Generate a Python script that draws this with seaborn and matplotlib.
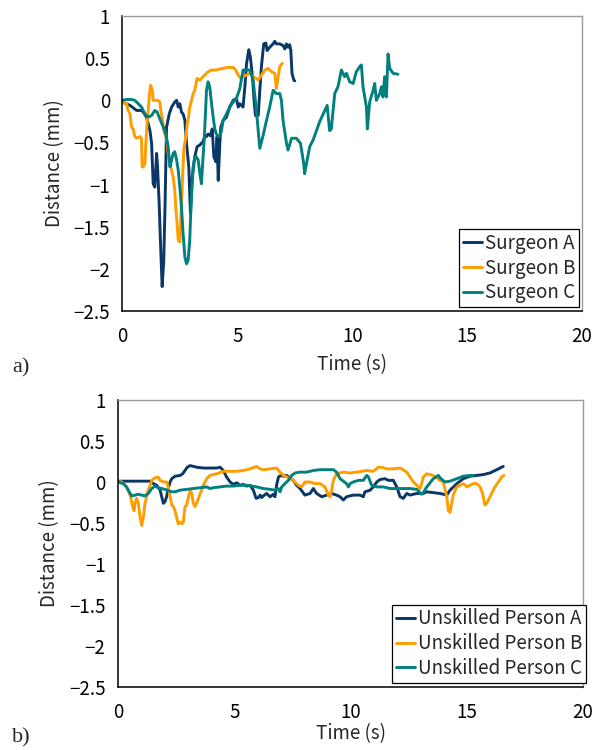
"""
Displacement traces: surgeons (a) vs unskilled persons (b).
"""

import matplotlib
matplotlib.use("Agg")
import matplotlib.pyplot as plt
import seaborn as sns
import pandas as pd

# ---- data (time s, distance mm) ----
SURG_A_T = [0.0, 0.33, 0.62, 0.83, 0.91, 1.05, 1.20, 1.27, 1.34, 1.41, 1.49, 1.53, 1.60, 1.67,
            1.73, 1.80, 1.86, 1.92, 2.04, 2.14, 2.28, 2.36, 2.43, 2.50, 2.57, 2.64, 2.72, 2.79,
            2.89, 2.96, 3.04, 3.15, 3.25, 3.37, 3.51, 3.59, 3.66, 3.73, 3.83, 3.91, 3.98, 4.07,
            4.12, 4.17, 4.24, 4.28, 4.38, 4.53, 4.67, 4.82, 4.96, 5.04, 5.11, 5.25, 5.33, 5.40,
            5.50, 5.57, 5.66, 5.73, 5.79, 5.91, 5.98, 6.05, 6.15, 6.24, 6.30, 6.41, 6.56, 6.63,
            6.70, 6.85, 6.99, 7.07, 7.14, 7.21, 7.28, 7.33, 7.38, 7.46, 7.50]
SURG_A_D = [-0.02, -0.06, -0.12, -0.12, -0.14, -0.20, -0.36, -0.51, -0.99, -1.03, -0.63, -0.79,
            -1.23, -1.78, -2.21, -1.90, -1.19, -0.32, -0.16, -0.08, -0.02, 0.00, -0.08, -0.04,
            -0.14, -0.16, -0.24, -0.51, -0.79, -1.34, -0.91, -0.67, -0.55, -0.53, -0.49, -0.42,
            -0.43, -0.40, -0.42, -0.34, -0.67, -0.73, -0.43, -0.95, -0.51, -0.32, -0.24, -0.20,
            -0.08, 0.00, 0.02, -0.08, -0.04, -0.08, 0.16, 0.43, 0.60, 0.51, 0.28, 0.00, -0.18,
            -0.18, 0.12, 0.40, 0.67, 0.68, 0.59, 0.63, 0.67, 0.70, 0.67, 0.67, 0.65, 0.61, 0.67,
            0.63, 0.66, 0.59, 0.32, 0.24, 0.23]

SURG_B_T = [0.0, 0.18, 0.25, 0.33, 0.40, 0.47, 0.54, 0.62, 0.76, 0.83, 0.86, 0.91, 0.98, 1.02,
            1.08, 1.12, 1.17, 1.22, 1.30, 1.34, 1.44, 1.53, 1.63, 1.67, 1.75, 1.82, 1.89, 1.95,
            1.99, 2.07, 2.14, 2.21, 2.28, 2.33, 2.38, 2.43, 2.50, 2.54, 2.62, 2.67, 2.76, 2.82,
            2.88, 2.93, 3.01, 3.08, 3.15, 3.25, 3.37, 3.51, 3.73, 3.88, 4.09, 4.38, 4.60, 4.82,
            4.93, 5.04, 5.14, 5.40, 5.54, 5.69, 5.83, 5.91, 6.05, 6.20, 6.34, 6.49, 6.63, 6.70,
            6.78, 6.85, 6.96]
SURG_B_D = [-0.02, -0.04, -0.12, -0.16, -0.32, -0.34, -0.43, -0.45, -0.43, -0.45, -0.79, -0.79,
            -0.75, -0.51, -0.24, -0.12, 0.04, 0.18, 0.12, 0.00, 0.00, 0.00, -0.02, -0.12, -0.24,
            -0.38, -0.43, -0.51, -0.63, -0.75, -0.83, -0.91, -1.07, -1.30, -1.46, -1.66, -1.68,
            -1.42, -0.91, -0.59, -0.43, -0.28, -0.20, -0.08, 0.00, 0.08, 0.12, 0.26, 0.24, 0.28,
            0.34, 0.36, 0.36, 0.38, 0.39, 0.39, 0.36, 0.30, 0.26, 0.30, 0.32, 0.28, 0.26, 0.24,
            0.30, 0.36, 0.38, 0.34, 0.32, 0.14, 0.28, 0.40, 0.44]

SURG_C_T = [0.0, 0.18, 0.40, 0.54, 0.69, 0.83, 0.98, 1.12, 1.27, 1.41, 1.51, 1.63, 1.78, 1.89,
            1.99, 2.07, 2.14, 2.21, 2.28, 2.36, 2.43, 2.50, 2.57, 2.64, 2.72, 2.79, 2.86, 2.93,
            2.98, 3.02, 3.08, 3.15, 3.22, 3.30, 3.37, 3.44, 3.51, 3.56, 3.62, 3.66, 3.73, 3.80,
            3.88, 3.95, 4.02, 4.09, 4.17, 4.24, 4.31, 4.38, 4.53, 4.67, 4.82, 4.96, 5.11, 5.25,
            5.40, 5.54, 5.69, 5.83, 5.98, 6.12, 6.27, 6.41, 6.56, 6.70, 6.85, 6.92, 6.99, 7.14,
            7.21, 7.36, 7.57, 7.75, 7.89, 7.93, 8.01, 8.15, 8.30, 8.59, 8.91, 9.02, 9.09, 9.24,
            9.38, 9.53, 9.67, 9.75, 9.89, 10.04, 10.18, 10.33, 10.40, 10.47, 10.62, 10.66, 10.76,
            10.91, 10.98, 11.05, 11.20, 11.27, 11.34, 11.41, 11.49, 11.56, 11.63, 11.78, 11.99]
SURG_C_D = [0.00, 0.01, 0.01, 0.00, -0.04, -0.08, -0.16, -0.20, -0.18, -0.12, -0.14, -0.22,
            -0.32, -0.40, -0.55, -0.79, -0.71, -0.63, -0.61, -0.71, -0.83, -1.03, -1.26, -1.58,
            -1.86, -1.94, -1.90, -1.66, -1.30, -1.07, -0.79, -0.67, -0.67, -0.71, -0.87, -0.99,
            -0.67, -0.47, -0.12, 0.12, 0.22, 0.16, -0.04, -0.20, -0.34, -0.40, -0.43, -0.42,
            -0.36, -0.24, -0.16, -0.08, -0.02, 0.02, 0.14, 0.36, 0.36, 0.36, 0.24, -0.12, -0.57,
            -0.42, -0.24, -0.08, 0.12, 0.08, 0.08, 0.00, -0.24, -0.51, -0.59, -0.45, -0.45,
            -0.51, -0.75, -0.87, -0.75, -0.55, -0.47, -0.25, -0.06, -0.36, -0.34, 0.08, 0.16,
            0.36, 0.28, 0.32, 0.22, 0.20, 0.34, 0.40, 0.42, 0.16, -0.08, -0.34, -0.02, 0.12,
            0.20, 0.00, 0.08, 0.16, 0.04, 0.28, 0.04, 0.55, 0.38, 0.32, 0.31]

UNSK_A_T = [0.0, 0.52, 1.38, 1.52, 1.66, 1.81, 1.88, 1.95, 2.02, 2.09, 2.16, 2.24, 2.31, 2.45,
            2.67, 2.78, 2.88, 2.98, 3.10, 3.38, 3.67, 3.96, 4.24, 4.39, 4.53, 4.67, 4.82, 4.96,
            5.10, 5.25, 5.39, 5.53, 5.68, 5.82, 5.94, 6.04, 6.11, 6.18, 6.25, 6.39, 6.54, 6.68,
            6.75, 6.82, 6.90, 7.00, 7.11, 7.25, 7.40, 7.54, 7.68, 7.83, 8.04, 8.26, 8.40, 8.54,
            8.76, 8.97, 9.19, 9.40, 9.55, 9.69, 9.83, 10.12, 10.41, 10.55, 10.62, 10.84, 10.98,
            11.13, 11.27, 11.48, 11.63, 11.84, 11.99, 12.13, 12.27, 12.42, 12.56, 12.85, 13.13,
            13.28, 13.56, 13.85, 14.14, 14.28, 14.57, 14.85, 15.14, 15.43, 15.71, 16.00, 16.29,
            16.57]
UNSK_A_D = [0.01, 0.01, 0.01, -0.02, -0.04, -0.10, -0.18, -0.26, -0.24, -0.18, -0.08, 0.00,
            0.04, 0.07, 0.08, 0.10, 0.14, 0.18, 0.20, 0.18, 0.17, 0.17, 0.17, 0.18, 0.14, 0.06,
            0.00, -0.03, -0.01, -0.04, -0.03, -0.05, -0.04, -0.10, -0.20, -0.19, -0.16, -0.19,
            -0.17, -0.14, -0.18, -0.15, -0.18, -0.04, 0.06, 0.08, 0.07, 0.08, 0.05, 0.02, -0.04,
            -0.08, -0.16, -0.14, -0.08, -0.14, -0.18, -0.16, -0.14, -0.16, -0.18, -0.22, -0.18,
            -0.16, -0.16, -0.18, -0.12, -0.10, -0.06, 0.00, 0.03, 0.04, 0.02, 0.02, -0.06, -0.18,
            -0.20, -0.14, -0.16, -0.14, -0.14, -0.12, -0.13, -0.14, -0.16, -0.10, -0.02, 0.04,
            0.07, 0.08, 0.09, 0.11, 0.15, 0.19]

UNSK_B_T = [0.0, 0.16, 0.30, 0.44, 0.54, 0.63, 0.69, 0.73, 0.80, 0.87, 0.95, 1.02, 1.09, 1.16,
            1.23, 1.30, 1.38, 1.45, 1.59, 1.73, 1.81, 1.95, 2.09, 2.16, 2.24, 2.31, 2.38, 2.45,
            2.52, 2.59, 2.67, 2.74, 2.81, 2.88, 2.95, 3.03, 3.10, 3.17, 3.24, 3.31, 3.38, 3.46,
            3.53, 3.60, 3.67, 3.81, 3.96, 4.24, 4.53, 5.10, 5.39, 5.68, 5.96, 6.11, 6.25, 6.54,
            6.82, 6.97, 7.11, 7.33, 7.47, 7.61, 7.76, 7.90, 8.04, 8.26, 8.47, 8.69, 8.90, 9.05,
            9.12, 9.19, 9.26, 9.40, 9.69, 9.98, 10.27, 10.70, 10.98, 11.20, 11.34, 11.56, 11.84,
            12.13, 12.42, 12.56, 12.70, 12.85, 12.99, 13.06, 13.13, 13.28, 13.56, 13.85, 13.99,
            14.14, 14.21, 14.28, 14.35, 14.42, 14.57, 14.71, 14.85, 15.00, 15.14, 15.28, 15.43,
            15.57, 15.68, 15.78, 15.86, 15.93, 16.07, 16.21, 16.36, 16.50, 16.60]
UNSK_B_D = [0.01, 0.00, -0.04, -0.10, -0.18, -0.30, -0.35, -0.26, -0.20, -0.26, -0.43, -0.53,
            -0.43, -0.26, -0.18, -0.10, -0.04, 0.02, 0.05, 0.06, 0.02, 0.00, 0.00, -0.06, -0.18,
            -0.28, -0.30, -0.35, -0.43, -0.51, -0.49, -0.51, -0.49, -0.30, -0.28, -0.18, -0.10,
            -0.14, -0.26, -0.30, -0.26, -0.20, -0.14, -0.10, -0.04, 0.04, 0.08, 0.10, 0.13, 0.13,
            0.14, 0.16, 0.19, 0.16, 0.15, 0.16, 0.17, 0.12, 0.08, 0.05, 0.04, 0.00, -0.04, -0.06,
            0.00, 0.00, -0.02, -0.02, -0.06, -0.16, -0.18, -0.10, 0.02, 0.10, 0.12, 0.11, 0.12,
            0.14, 0.13, 0.18, 0.18, 0.16, 0.16, 0.17, 0.12, 0.06, 0.00, -0.04, -0.08, -0.02, 0.06,
            0.10, 0.08, 0.02, 0.00, -0.18, -0.35, -0.37, -0.26, -0.16, -0.06, -0.04, -0.02, -0.06,
            -0.04, -0.02, -0.02, -0.06, -0.14, -0.28, -0.26, -0.22, -0.14, -0.06, 0.00, 0.06, 0.08]

UNSK_C_T = [0.0, 0.09, 0.23, 0.37, 0.44, 0.52, 0.59, 0.73, 0.87, 1.02, 1.16, 1.30, 1.45, 1.59,
            1.73, 2.02, 2.31, 2.45, 2.67, 2.95, 3.24, 3.53, 3.81, 3.96, 4.10, 4.39, 4.67, 4.96,
            5.25, 5.53, 5.75, 5.96, 6.25, 6.54, 6.75, 6.90, 6.97, 7.04, 7.18, 7.33, 7.47, 7.61,
            7.83, 8.11, 8.40, 8.69, 9.26, 9.40, 9.55, 9.69, 9.83, 9.91, 9.98, 10.12, 10.34, 10.55,
            10.62, 10.70, 10.77, 10.91, 11.13, 11.41, 11.70, 12.13, 12.56, 12.85, 13.06, 13.13,
            13.28, 13.42, 13.56, 13.78, 13.85, 14.06, 14.28, 14.57, 14.85, 15.14, 15.28]
UNSK_C_D = [0.01, -0.01, -0.02, -0.06, -0.10, -0.14, -0.17, -0.16, -0.15, -0.16, -0.17, -0.14,
            -0.08, -0.05, -0.07, -0.09, -0.12, -0.12, -0.10, -0.09, -0.08, -0.07, -0.06, -0.08,
            -0.07, -0.06, -0.05, -0.05, -0.04, -0.04, -0.05, -0.06, -0.08, -0.09, -0.10, -0.08,
            -0.12, -0.06, -0.02, 0.02, 0.08, 0.11, 0.12, 0.12, 0.14, 0.15, 0.15, 0.12, 0.04, 0.01,
            -0.02, -0.06, -0.02, 0.00, 0.02, 0.02, 0.05, 0.08, 0.06, -0.04, -0.06, -0.06, -0.08,
            -0.08, -0.08, -0.09, -0.15, -0.13, -0.06, -0.01, 0.04, 0.08, 0.05, 0.00, 0.01, 0.04,
            0.07, 0.08, 0.08]

SURGEONS = ["Surgeon A", "Surgeon B", "Surgeon C"]
UNSKILLED = ["Unskilled Person A", "Unskilled Person B", "Unskilled Person C"]
COLORS = ["#0b3668", "#ff9d00", "#00807e"]

Y_TICKS = [1, 0.5, 0, -0.5, -1, -1.5, -2, -2.5]
X_TICKS = [0, 5, 10, 15, 20]

FS = 13.5


def long_frame(names, series):
    rows = []
    for name, (t, d) in zip(names, series):
        for i, (ti, di) in enumerate(zip(t, d)):
            rows.append({"who": name, "order": i, "time": ti, "dist": di})
    return pd.DataFrame(rows)


def style_axes(ax, xlabelpad):
    ax.set_xlim(0, 20)
    ax.set_ylim(-2.5, 1)
    ax.set_xticks(X_TICKS)
    ax.set_yticks(Y_TICKS)
    ax.set_yticklabels([f"{v:g}".replace("-", "\u2212") for v in Y_TICKS])
    ax.tick_params(axis="both", direction="in", length=5, width=1, colors="black",
                   labelsize=FS, top=False, right=False)
    ax.tick_params(axis="x", pad=11)
    ax.tick_params(axis="y", pad=9)
    for side in ("left", "bottom"):
        ax.spines[side].set_color("black")
        ax.spines[side].set_linewidth(1.1)
    for side in ("top", "right"):
        ax.spines[side].set_color("#9a9a9a")
        ax.spines[side].set_linewidth(1.0)
    ax.set_xlabel("Time (s)", fontsize=FS, labelpad=xlabelpad)
    ax.set_ylabel("Distance (mm)", fontsize=FS, labelpad=6)


def draw_panel(ax, df, names, legend_box, xlabelpad):
    sns.lineplot(data=df, x="time", y="dist", hue="who", hue_order=names,
                 palette=COLORS, units="who", estimator=None, sort=False,
                 linewidth=2.1, ax=ax)
    style_axes(ax, xlabelpad)
    handles, labels = ax.get_legend_handles_labels()
    leg = ax.legend(handles, labels, loc="lower right", bbox_to_anchor=legend_box,
                    fontsize=FS, frameon=True, fancybox=False, framealpha=1,
                    edgecolor="black", handlelength=1.0, handletextpad=0.15,
                    labelspacing=0.2, borderpad=0.2, borderaxespad=0.0)
    leg.get_frame().set_linewidth(0.9)


def main():
    sns.set_theme(style="white")
    plt.rcParams["font.family"] = ["Noto Sans CJK JP", "DejaVu Sans"]

    fig = plt.figure(figsize=(6, 7.5), dpi=100)
    ax_a = fig.add_axes([0.204, 0.5853, 0.766, 0.3933])
    ax_b = fig.add_axes([0.1967, 0.084, 0.775, 0.3827])

    df_a = long_frame(SURGEONS, [(SURG_A_T, SURG_A_D), (SURG_B_T, SURG_B_D),
                                 (SURG_C_T, SURG_C_D)])
    df_b = long_frame(UNSKILLED, [(UNSK_A_T, UNSK_A_D), (UNSK_B_T, UNSK_B_D),
                                  (UNSK_C_T, UNSK_C_D)])

    draw_panel(ax_a, df_a, SURGEONS, (0.993, 0.013), 5)
    draw_panel(ax_b, df_b, UNSKILLED, (1.006, 0.015), 0)

    fig.text(0.02, 0.509, "a)", fontsize=16, family="Liberation Serif", va="center")
    fig.text(0.02, 0.003, "b)", fontsize=16, family="Liberation Serif", va="bottom")

    fig.savefig("out.png", dpi=100)
    plt.close(fig)


if __name__ == "__main__":
    main()
